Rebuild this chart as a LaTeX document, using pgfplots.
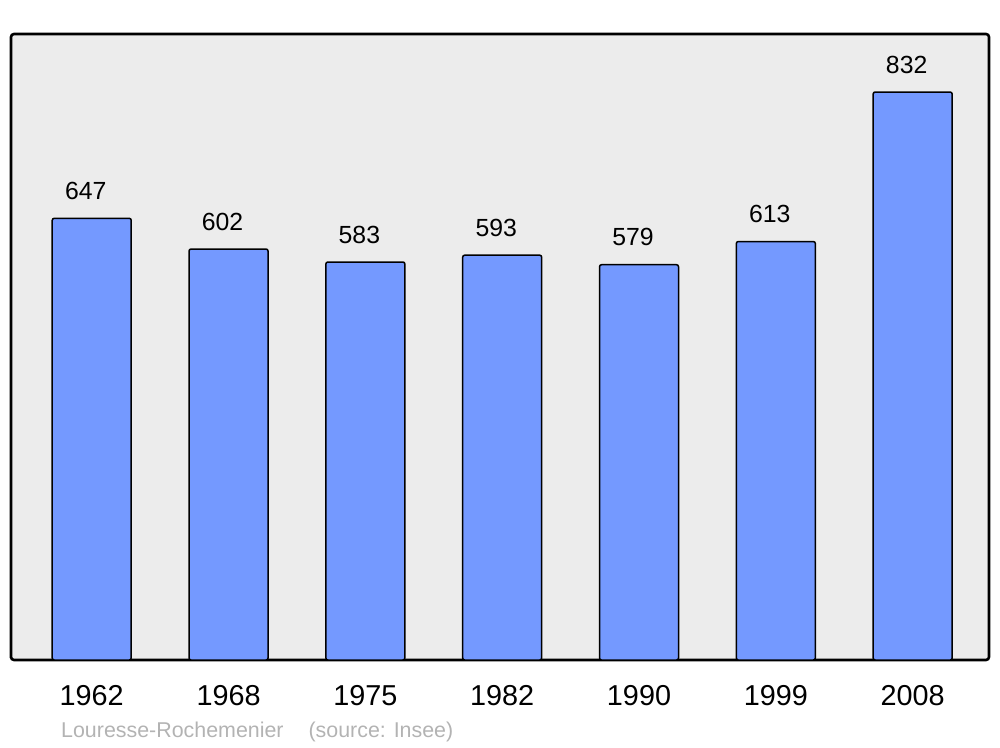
\documentclass[border=0pt]{standalone}
\usepackage{pgfplots}
\pgfplotsset{compat=1.18}
\usepackage{fontspec}
\setmainfont{Liberation Sans}
\definecolor{barblue}{HTML}{7499FF}
\definecolor{bggray}{HTML}{ECECEC}
\definecolor{srcgray}{HTML}{B3B3B3}
\begin{document}
\begin{tikzpicture}
\path[use as bounding box] (0,0) rectangle (1000pt,747pt);
\begin{axis}[
  at={(11pt,87pt)}, anchor=south west,
  scale only axis, width=978pt, height=626pt,
  xmin=-0.59, xmax=6.558, ymin=0, ymax=917,
  /pgf/number format/assume math mode=true,
  axis background/.style={fill=bggray},
  axis line style={line width=2.6pt, rounded corners=3pt},
  ytick=\empty,
  xtick={0,1,2,3,4,5,6},
  xticklabels={1962,1968,1975,1982,1990,1999,2008},
  major tick length=0pt,
  xticklabel style={anchor=base, inner sep=0pt, yshift=-45pt, font=\fontsize{28.8}{32}\selectfont},
  ybar, bar width=79pt,
  nodes near coords,
  every node near coord/.append style={anchor=base, inner sep=0pt, yshift=19pt, xshift=-6pt, font=\fontsize{24.8}{28}\selectfont, text=black},
  clip=false,
]
\addplot[fill=barblue, draw=black, line width=1.5pt, rounded corners=2pt] coordinates {(0,647) (1,602) (2,583) (3,593) (4,579) (5,613) (6,832)};
\end{axis}
\node[anchor=base west, inner sep=0pt, text=srcgray, font=\fontsize{21.4}{24}\selectfont] at (61pt,10pt) {Louresse-Rochemenier\hspace{25pt}(source: Insee)};
\end{tikzpicture}
\end{document}
